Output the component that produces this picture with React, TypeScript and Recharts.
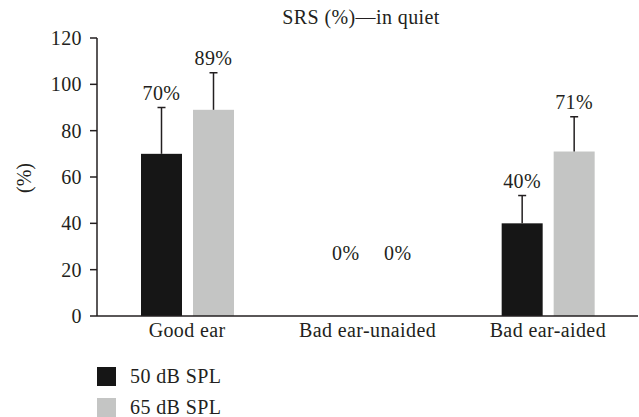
import { BarChart, Bar, XAxis, YAxis, LabelList, Legend } from 'recharts'

// Speech recognition score in quiet, per ear condition
const categories = ['Good ear', 'Bad ear-unaided', 'Bad ear-aided']
const spl50 = [70, 0, 40]
const spl65 = [89, 0, 71]
// upper standard deviation (only the upper whisker is drawn)
const err50 = [20, 0, 12]
const err65 = [16, 0, 15]
const yTicks = [0, 20, 40, 60, 80, 100, 120]

const FONT = '"Liberation Serif", "Times New Roman", serif'
const FS = 20
const LS = 0.4
const INK = '#231f20'
const BLACK = '#161616'
const GRAY = '#c4c5c4'

const rows = categories.map((name, i) => ({
  name,
  spl50: spl50[i],
  spl65: spl65[i],
  err50: err50[i],
  err65: err65[i]
}))

// Bar rect plus an upward-only error whisker, scaled from the bar's own height
function makeShape(dataKey: string, errKey: string) {
  return (props: any) => {
    const { x, y, width, height, fill, payload } = props
    const v = payload[dataKey]
    const e = payload[errKey]
    if (!v) return <g />
    const px = height / v
    const cx = x + width / 2
    const top = y - e * px
    return (
      <g>
        <rect x={x} y={y} width={width} height={height} fill={fill} />
        <line x1={cx} y1={y} x2={cx} y2={top} stroke={INK} strokeWidth={1.5} />
        <line x1={cx - 4} y1={top} x2={cx + 4} y2={top} stroke={INK} strokeWidth={1.5} />
      </g>
    )
  }
}

function makeLabel(errs: number[]) {
  return (props: any) => {
    const { x, y, width, height, value, index } = props
    let cx = x + width / 2
    let ty = y - 56
    if (value) ty = y - (errs[index] * height) / value - 8
    else cx += 4
    return (
      <text x={cx} y={ty} textAnchor="middle" fontSize={FS} letterSpacing={LS} fontFamily={FONT} fill={INK}>
        {`${value}%`}
      </text>
    )
  }
}

function LegendBox() {
  const items = [
    { label: '50 dB SPL', color: BLACK },
    { label: '65 dB SPL', color: GRAY }
  ]
  return (
    <div>
      {items.map(it => (
        <div key={it.label} style={{ display: 'flex', alignItems: 'center', height: 31 }}>
          <span style={{ width: 19, height: 19, background: it.color, display: 'inline-block' }} />
          <span style={{ marginLeft: 14, fontFamily: FONT, fontSize: FS, letterSpacing: LS, color: INK }}>
            {it.label}
          </span>
        </div>
      ))}
    </div>
  )
}

export default function App() {
  return (
    <div style={{ position: 'absolute', left: 0, top: 0, width: 639, height: 417, background: '#fff' }}>
      <div
        style={{
          position: 'absolute',
          left: 261,
          width: 200,
          top: 6,
          textAlign: 'center',
          fontFamily: FONT,
          fontSize: FS,
          letterSpacing: LS,
          color: INK,
          whiteSpace: 'nowrap'
        }}
      >
        SRS (%)—in quiet
      </div>
      <BarChart
        width={639}
        height={417}
        data={rows}
        margin={{ top: 38, right: 1, left: 0, bottom: 71 }}
        barSize={41}
        barGap={11}
      >
        <XAxis
          dataKey="name"
          height={30}
          tickLine={false}
          tickSize={0}
          tickMargin={7}
          axisLine={{ stroke: INK, strokeWidth: 1.5 }}
          tick={{ fill: INK, fontSize: FS, letterSpacing: LS, fontFamily: FONT }}
        />
        <YAxis
          width={97}
          domain={[0, 120]}
          ticks={yTicks}
          interval={0}
          tickSize={7}
          tickMargin={8}
          tickLine={{ stroke: INK, strokeWidth: 1.5 }}
          axisLine={{ stroke: INK, strokeWidth: 1.5 }}
          tick={{ fill: INK, fontSize: FS, letterSpacing: LS, fontFamily: FONT }}
          label={{
            content: (p: any) => {
              const vb = p.viewBox
              const cx = vb.x + 24
              const cy = vb.y + vb.height / 2 + 1
              return (
                <text
                  x={cx}
                  y={cy}
                  transform={`rotate(-90, ${cx}, ${cy})`}
                  textAnchor="middle"
                  dominantBaseline="central"
                  fontSize={FS}
                  fontFamily={FONT}
                  fill={INK}
                >
                  (%)
                </text>
              )
            }
          }}
        />
        <Legend
          layout="vertical"
          align="center"
          verticalAlign="middle"
          content={() => <LegendBox />}
          wrapperStyle={{ position: 'absolute', left: 97, top: 361, width: 200 }}
        />
        <Bar dataKey="spl50" name="50 dB SPL" fill={BLACK} shape={makeShape('spl50', 'err50')} isAnimationActive={false}>
          <LabelList dataKey="spl50" content={makeLabel(err50)} />
        </Bar>
        <Bar dataKey="spl65" name="65 dB SPL" fill={GRAY} shape={makeShape('spl65', 'err65')} isAnimationActive={false}>
          <LabelList dataKey="spl65" content={makeLabel(err65)} />
        </Bar>
      </BarChart>
    </div>
  )
}
